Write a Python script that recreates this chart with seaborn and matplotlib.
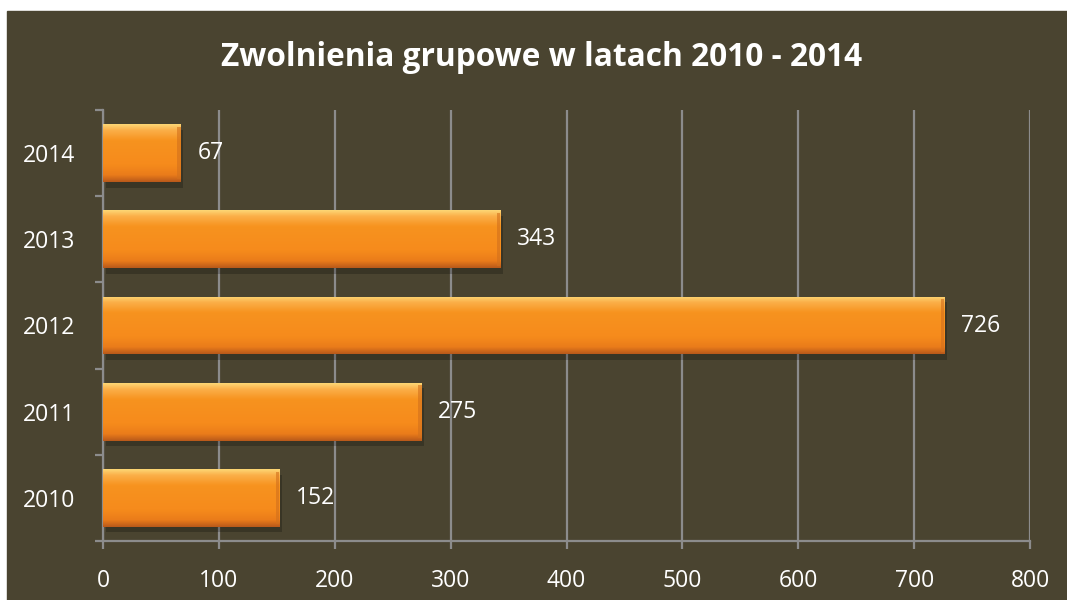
import matplotlib
matplotlib.use("Agg")
import matplotlib.pyplot as plt
import matplotlib.patheffects as pe
from matplotlib.colors import LinearSegmentedColormap
import numpy as np
import pandas as pd
import seaborn as sns

years = ["2010", "2011", "2012", "2013", "2014"]
layoffs = [152, 275, 726, 343, 67]
x_ticks = [0, 100, 200, 300, 400, 500, 600, 700, 800]
title = "Zwolnienia grupowe w latach 2010 - 2014"

bg = "#4a4430"
grid_col = "#8c8c8c"

sns.set_style("dark")
plt.rcParams["font.family"] = ["Open Sans", "DejaVu Sans"]

df = pd.DataFrame({"rok": years, "liczba": layoffs})

fig = plt.figure(figsize=(10.67, 6.0), dpi=100)
fig.patch.set_facecolor("white")
# dark panel with thin white margin top/left
fig.add_artist(plt.Rectangle((7 / 1067, 0), 1 - 7 / 1067, 1 - 11 / 600,
                             transform=fig.transFigure, color=bg, zorder=-10))
ax = fig.add_axes([103 / 1067, 59 / 600, 927 / 1067, 431 / 600])
ax.set_facecolor(bg)

sns.barplot(data=df, x="liczba", y="rok", order=years[::-1], orient="h",
            color="#f7921f", width=0.67, saturation=1, ax=ax, zorder=3)

ax.set_xlim(0, 800)
ax.set_xticks(x_ticks)
ax.set_xlabel("")
ax.set_ylabel("")
ax.grid(axis="x", color=grid_col, linewidth=1.6, zorder=0)
ax.grid(axis="y", visible=False)
ax.set_axisbelow(True)

for s in ["top", "right"]:
    ax.spines[s].set_visible(False)
for s in ["left", "bottom"]:
    ax.spines[s].set_visible(True)
    ax.spines[s].set_color(grid_col)
    ax.spines[s].set_linewidth(1.6)

# y ticks at category boundaries, labels centred
n = len(years)
ax.set_yticks(np.arange(n))
ax.set_yticklabels(years[::-1])
ax.set_yticks(np.arange(-0.5, n, 1.0), minor=True)
ax.set_ylim(n - 0.5, -0.5)
ax.tick_params(axis="y", which="major", length=0, pad=20, labelsize=16.5,
               labelcolor="white")
ax.tick_params(axis="y", which="minor", length=6, width=1.6, color=grid_col,
               direction="out", left=True)
ax.tick_params(axis="x", length=6, width=1.6, color=grid_col, direction="out",
               pad=14, labelsize=16.5, labelcolor="white", bottom=True)

# gradient fill + soft shadow for each bar
cols = ["#fdd775", "#fbb04a", "#f7931f", "#f68b1c", "#ea7c1a", "#b9591a"]
pos = [0.0, 0.1, 0.28, 0.7, 0.88, 1.0]
cmap = LinearSegmentedColormap.from_list("bar", list(zip(pos, cols)))
grad = np.linspace(0, 1, 200).reshape(-1, 1)
grad = np.repeat(grad, 50, axis=1)
xlim, ylim = ax.get_xlim(), ax.get_ylim()
for p in ax.patches:
    p.set_path_effects([pe.SimplePatchShadow(offset=(2, -4), shadow_rgbFace="black",
                                             alpha=0.22), pe.Normal()])
    p.set_edgecolor("none")
    x0, y0 = p.get_x(), p.get_y()
    w, h = p.get_width(), p.get_height()
    im = ax.imshow(grad, cmap=cmap, extent=(x0, x0 + w, y0 + h, y0),
                   origin="upper", aspect="auto", zorder=4, interpolation="bilinear")
    im.set_clip_path(p)
    # darker right edge for the bevel look
    ax.add_patch(plt.Rectangle((x0 + w - 3, y0 + 0.03), 3, h - 0.06,
                               color="#d2701c", alpha=0.6, zorder=5, lw=0))
ax.set_xlim(xlim)
ax.set_ylim(ylim)

for c in ax.containers:
    ax.bar_label(c, padding=12, color="white", fontsize=16.5)

fig.text(542 / 1067, 1 - 57 / 600, title, ha="center", va="center",
         color="white", fontsize=22.8, fontweight="bold")

fig.savefig("out.png", dpi=100, facecolor=fig.get_facecolor())
